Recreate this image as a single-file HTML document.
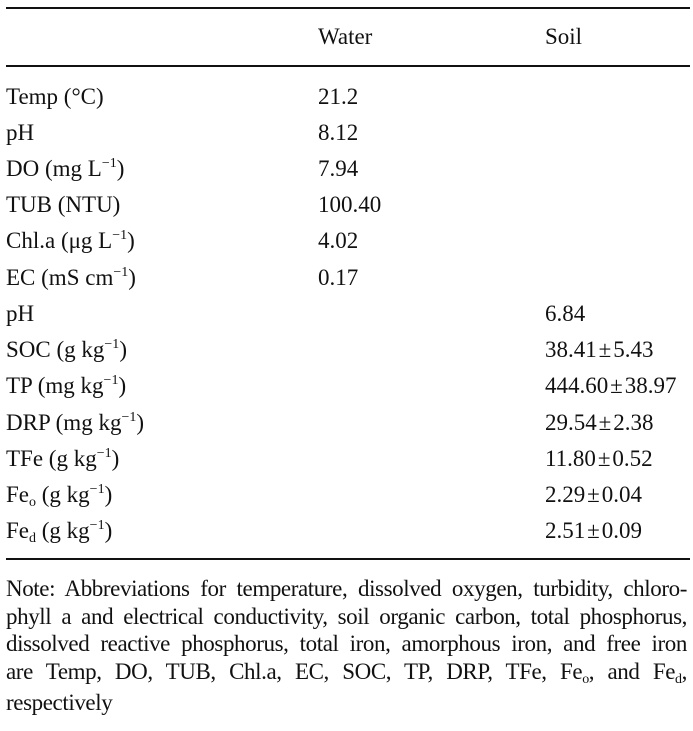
<!DOCTYPE html>
<html><head><style>
body{margin:0;width:693px;height:731px;background:#fff;font-family:"Liberation Serif",serif;color:#111;position:relative;overflow:hidden}
.l{position:absolute;left:6px;right:3px;height:2px;background:#111}
.r{position:absolute;font-size:23px;line-height:24px;white-space:nowrap}
sup{font-size:14px;vertical-align:0;position:relative;top:-9px}
sub{font-size:14px;vertical-align:0;position:relative;top:4px}
.note{position:absolute;left:6px;width:681px;top:575px;font-size:23px;line-height:27.5px;letter-spacing:-0.4px}
.note div{text-align:justify;text-align-last:justify;white-space:nowrap}
.note div.last{text-align-last:left}
</style></head><body>
<div class="l" style="top:7px"></div>
<div class="l" style="top:65px"></div>
<div class="l" style="top:558px"></div>
<div class="r" style="left:318px;top:25px">Water</div>
<div class="r" style="left:545px;top:25px">Soil</div>

<div class="r" style="left:6px;top:85px">Temp (°C)</div><div class="r" style="left:318px;top:85px">21.2</div>
<div class="r" style="left:6px;top:121px">pH</div><div class="r" style="left:318px;top:121px">8.12</div>
<div class="r" style="left:6px;top:157px">DO (mg L<sup>−1</sup>)</div><div class="r" style="left:318px;top:157px">7.94</div>
<div class="r" style="left:6px;top:193px">TUB (NTU)</div><div class="r" style="left:318px;top:193px">100.40</div>
<div class="r" style="left:6px;top:229px">Chl.a (μg L<sup>−1</sup>)</div><div class="r" style="left:318px;top:229px">4.02</div>
<div class="r" style="left:6px;top:266px">EC (mS cm<sup>−1</sup>)</div><div class="r" style="left:318px;top:266px">0.17</div>
<div class="r" style="left:6px;top:302px">pH</div><div class="r" style="left:545px;top:302px">6.84</div>
<div class="r" style="left:6px;top:338px">SOC (g kg<sup>−1</sup>)</div><div class="r" style="left:545px;top:338px">38.41&#8202;±&#8202;5.43</div>
<div class="r" style="left:6px;top:374px">TP (mg kg<sup>−1</sup>)</div><div class="r" style="left:545px;top:374px">444.60&#8202;±&#8202;38.97</div>
<div class="r" style="left:6px;top:411px">DRP (mg kg<sup>−1</sup>)</div><div class="r" style="left:545px;top:411px">29.54&#8202;±&#8202;2.38</div>
<div class="r" style="left:6px;top:447px">TFe (g kg<sup>−1</sup>)</div><div class="r" style="left:545px;top:447px">11.80&#8202;±&#8202;0.52</div>
<div class="r" style="left:6px;top:483px">Fe<sub>o</sub> (g kg<sup>−1</sup>)</div><div class="r" style="left:545px;top:483px">2.29&#8202;±&#8202;0.04</div>
<div class="r" style="left:6px;top:519px">Fe<sub>d</sub> (g kg<sup>−1</sup>)</div><div class="r" style="left:545px;top:519px">2.51&#8202;±&#8202;0.09</div>

<div class="note">
<div>Note: Abbreviations for temperature, dissolved oxygen, turbidity, chloro-</div>
<div>phyll a and electrical conductivity, soil organic carbon, total phosphorus,</div>
<div>dissolved reactive phosphorus, total iron, amorphous iron, and free iron</div>
<div>are Temp, DO, TUB, Chl.a, EC, SOC, TP, DRP, TFe, Fe<sub>o</sub>, and Fe<sub>d</sub>,</div>
<div class="last">respectively</div>
</div>
</body></html>
